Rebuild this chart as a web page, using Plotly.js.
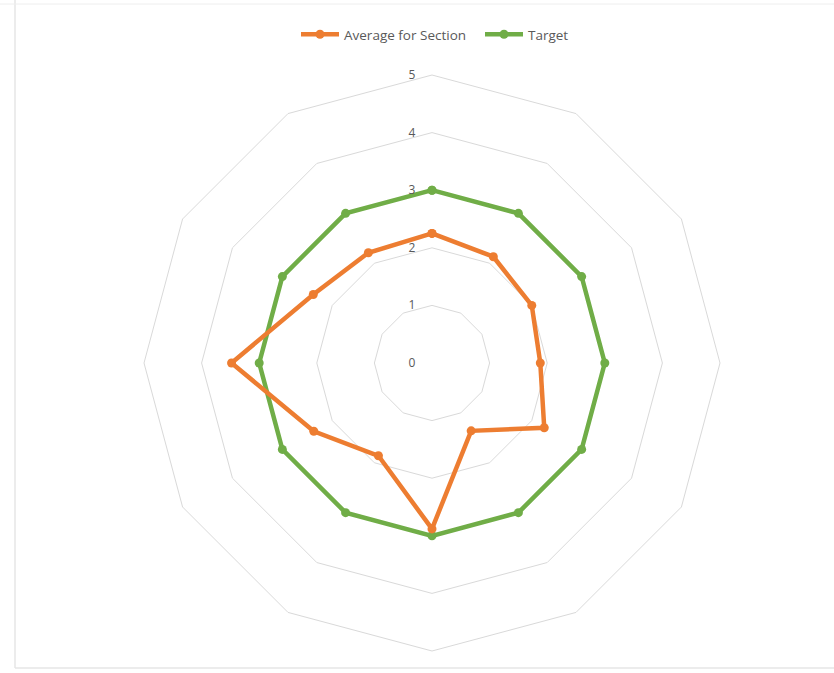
<!DOCTYPE html>
<html>
<head>
<meta charset="utf-8">
<script src="https://cdn.plot.ly/plotly-3.0.1.min.js"></script>
<style>html,body{margin:0;padding:0;background:#fff;}#chart{width:834px;height:673px;}</style>
</head>
<body>
<div id="chart"></div>
<script>
const categories = ["C1","C2","C3","C4","C5","C6","C7","C8","C9","C10","C11","C12"];
const averageForSection = [2.25, 2.13, 2.0, 1.88, 2.25, 1.36, 2.88, 1.86, 2.37, 3.48, 2.38, 2.21];
const target = [3, 3, 3, 3, 3, 3, 3, 3, 3, 3, 3, 3];
const radialTicks = [0, 1, 2, 3, 4, 5];

function closed(arr){ return arr.concat([arr[0]]); }

const W = 834, H = 673;
const cx = 432, cy = 363, R = 288;

const traces = [
  {
    type: 'scatterpolar', mode: 'lines+markers', name: 'Target',
    theta: closed(categories), r: closed(target),
    line: {color: '#70AD47', width: 4.5},
    marker: {color: '#70AD47', size: 9},
    legendrank: 2, hoverinfo: 'skip'
  },
  {
    type: 'scatterpolar', mode: 'lines+markers', name: 'Average for Section',
    theta: closed(categories), r: closed(averageForSection),
    line: {color: '#ED7D31', width: 4.5},
    marker: {color: '#ED7D31', size: 9},
    legendrank: 1, hoverinfo: 'skip'
  }
];

const layout = {
  width: W, height: H,
  margin: {l: 0, r: 0, t: 0, b: 0},
  paper_bgcolor: '#ffffff',
  showlegend: true,
  legend: {
    orientation: 'h', x: 296/W, xanchor: 'left', y: 1 - 19/H, yanchor: 'top',
    font: {family: 'Open Sans, sans-serif', size: 13.5, color: '#595959'},
    itemwidth: 38, entrywidth: 131, tracegroupgap: 0
  },
  polar: {
    domain: {x: [(cx - R)/W, (cx + R)/W], y: [(H - cy - R)/H, (H - cy + R)/H]},
    gridshape: 'linear',
    bgcolor: 'rgba(0,0,0,0)',
    radialaxis: {
      range: [0, 5], tickvals: radialTicks, ticktext: radialTicks.map(String),
      angle: 90, side: 'counterclockwise', tickangle: 90,
      showline: false, ticks: 'outside', ticklen: 12, tickcolor: 'rgba(0,0,0,0)',
      gridcolor: '#d9d9d9', gridwidth: 1,
      tickfont: {family: 'Open Sans, sans-serif', size: 12, color: '#595959'}
    },
    angularaxis: {
      type: 'category', direction: 'clockwise', rotation: 90,
      showticklabels: false, ticks: '', showgrid: false,
      showline: true, linecolor: '#d9d9d9', linewidth: 1
    }
  },
  shapes: [
    {type: 'line', xref: 'paper', yref: 'paper', x0: 15/W, x1: 15/W, y0: 5/H, y1: 1, line: {color: '#e6e6e6', width: 1.5}},
    {type: 'line', xref: 'paper', yref: 'paper', x0: 15/W, x1: 1, y0: 5/H, y1: 5/H, line: {color: '#e6e6e6', width: 1.5}},
    {type: 'line', xref: 'paper', yref: 'paper', x0: 0, x1: 1, y0: 1 - 4/H, y1: 1 - 4/H, line: {color: '#eeeeee', width: 1}}
  ]
};

Plotly.newPlot('chart', traces, layout, {displayModeBar: false, staticPlot: true});
</script>
</body>
</html>
